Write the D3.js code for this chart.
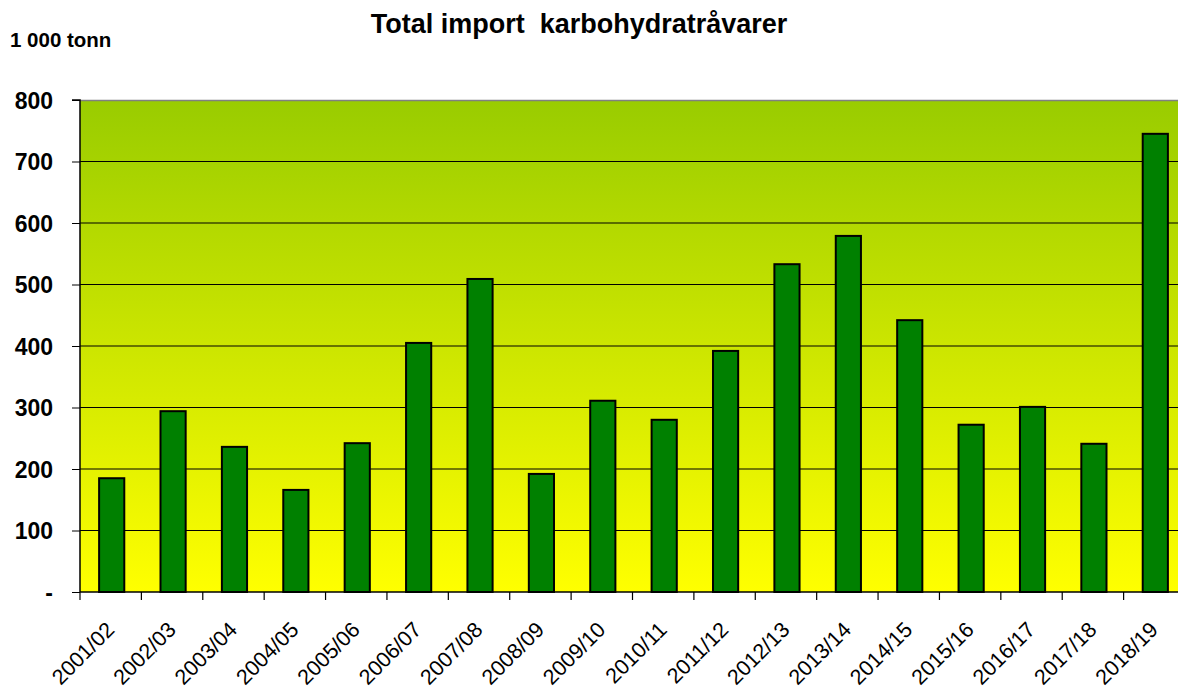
<!DOCTYPE html>
<html><head><meta charset="utf-8">
<script src="https://cdn.jsdelivr.net/npm/d3@7"></script>
<style>body{margin:0;background:#fff;}svg{display:block;font-family:"Liberation Sans",Arial,sans-serif;}</style>
</head><body>
<script>
const categories = ["2001/02","2002/03","2003/04","2004/05","2005/06","2006/07","2007/08","2008/09","2009/10","2010/11","2011/12","2012/13","2013/14","2014/15","2015/16","2016/17","2017/18","2018/19"];
const values = [185,294,236,166,242,405,509,192,311,280,392,533,579,442,272,301,241,745];
const yTicks = [0,100,200,300,400,500,600,700,800];
const title = "Total import  karbohydratråvarer";
const unitLabel = "1 000 tonn";

const W=1178,H=688;
const m={left:80,top:100,right:1185,bottom:592};
const svg=d3.select("body").append("svg").attr("width",W).attr("height",H);
const defs=svg.append("defs");
const g=defs.append("linearGradient").attr("id","bg").attr("x1",0).attr("y1",0).attr("x2",0).attr("y2",1);
g.append("stop").attr("offset","0%").attr("stop-color","#99cc00");
g.append("stop").attr("offset","100%").attr("stop-color","#ffff00");

const x=d3.scaleBand().domain(categories).range([m.left,m.right]).paddingInner(0).paddingOuter(0);
const y=d3.scaleLinear().domain([0,800]).range([m.bottom,m.top]);

svg.append("rect").attr("x",m.left).attr("y",m.top).attr("width",m.right-m.left).attr("height",m.bottom-m.top).attr("fill","url(#bg)");
svg.append("line").attr("x1",m.left).attr("x2",m.right).attr("y1",m.top+0.5).attr("y2",m.top+0.5).attr("stroke","#808080").attr("stroke-width",1.5);

// gridlines
svg.append("g").selectAll("line").data(yTicks.filter(d=>d>0&&d<800)).join("line")
 .attr("x1",m.left).attr("x2",m.right).attr("y1",d=>y(d)).attr("y2",d=>y(d)).attr("stroke","#000").attr("stroke-width",1.2);

// bars
const bw=x.bandwidth()*0.41;
svg.append("g").selectAll("rect").data(values).join("rect")
 .attr("x",(d,i)=>x(categories[i])+x.bandwidth()/2-bw/2+1)
 .attr("y",d=>y(d)).attr("width",bw).attr("height",d=>y(0)-y(d))
 .attr("fill","#008000").attr("stroke","#000").attr("stroke-width",2);

// y axis
const ya=d3.axisLeft(y).tickValues(yTicks).tickSize(8).tickFormat(d=>d===0?"-":d);
const yg=svg.append("g").attr("transform",`translate(${m.left},0)`).call(ya);
yg.select(".domain").attr("stroke","#000").attr("stroke-width",1.5).attr("d",`M-8,${m.top}H0V${m.bottom}`);
yg.selectAll(".tick line").attr("stroke","#000");
yg.selectAll(".tick text").attr("font-size",23).attr("font-weight","bold").attr("fill","#000").attr("x",-27).attr("dy","0.35em");

// x axis
const xa=d3.axisBottom(x).tickSize(0).tickFormat(d=>d);
const xg=svg.append("g").attr("transform",`translate(0,${m.bottom})`).call(xa);
xg.select(".domain").attr("stroke","#000").attr("stroke-width",1.5).attr("d",`M${m.left},0H${m.right}`);
xg.selectAll(".tick text").attr("font-size",21.5).attr("fill","#000")
 .attr("text-anchor","end").attr("transform","translate(5,39) rotate(-45)").attr("y",0).attr("dy",0);
svg.append("g").selectAll("line").data(categories).join("line")
 .attr("x1",d=>x(d)).attr("x2",d=>x(d)).attr("y1",m.bottom).attr("y2",m.bottom+8).attr("stroke","#000").attr("stroke-width",1.2);

svg.append("text").attr("x",579).attr("y",33).attr("text-anchor","middle").attr("font-size",27).attr("font-weight","bold").style("white-space","pre").text(title);
svg.append("text").attr("x",10).attr("y",47).attr("font-size",20.5).attr("font-weight","bold").text(unitLabel);
</script>
</body></html>
